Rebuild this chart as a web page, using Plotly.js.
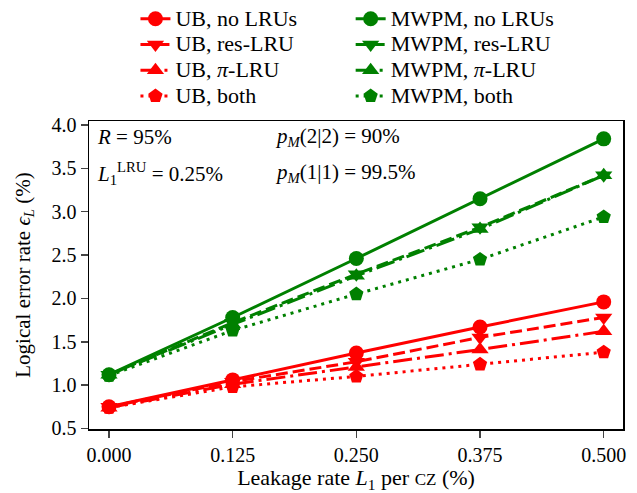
<!DOCTYPE html>
<html><head><meta charset="utf-8">
<script src="https://cdn.plot.ly/plotly-3.0.1.min.js"></script>
<style>body{margin:0;background:#fff}#plot{width:637px;height:493px}</style>
</head><body><div id="plot"></div>
<script>
const leakage = [0, 0.125, 0.25, 0.375, 0.5];
const xTickLabels = ['0.000','0.125','0.250','0.375','0.500'];
const ubNoLRU   = [0.75, 1.06, 1.37, 1.67, 1.96];
const ubRes     = [0.75, 1.04, 1.27, 1.55, 1.78];
const ubPi      = [0.74, 1.01, 1.21, 1.41, 1.62];
const ubBoth    = [0.74, 0.98, 1.10, 1.24, 1.38];
const mwNoLRU   = [1.12, 1.78, 2.46, 3.15, 3.84];
const mwRes     = [1.12, 1.72, 2.28, 2.82, 3.42];
const mwPi      = [1.12, 1.70, 2.26, 2.80, 3.42];
const mwBoth    = [1.11, 1.63, 2.05, 2.45, 2.94];

const RED = '#ff0000', GREEN = '#008000';
const FONT = 'Liberation Serif, DejaVu Serif, serif';
const TXT = 21;
function lg(s) { return '<span style="font-size:22px">' + s + '</span>'; }
function tr(name, y, color, dash, symbol, legend) {
  return {x: leakage, y: y, name: lg(name), type: 'scatter', mode: 'lines+markers',
    legend: legend,
    line: {color: color, width: 3, dash: dash},
    marker: {color: color, symbol: symbol, size: 15, line: {width: 0}}};
}
const data = [
  tr('UB, no LRUs', ubNoLRU, RED, 'solid', 'circle', 'legend'),
  tr('UB, res-LRU', ubRes, RED, '12px,5px', 'triangle-down', 'legend'),
  tr('UB, <i>π</i>-LRU', ubPi, RED, '19px,5px,3px,5px', 'triangle-up', 'legend'),
  tr('UB, both', ubBoth, RED, '3px,5px', 'pentagon', 'legend'),
  tr('MWPM, no LRUs', mwNoLRU, GREEN, 'solid', 'circle', 'legend2'),
  tr('MWPM, res-LRU', mwRes, GREEN, '12px,5px', 'triangle-down', 'legend2'),
  tr('MWPM, <i>π</i>-LRU', mwPi, GREEN, '19px,5px,3px,5px', 'triangle-up', 'legend2'),
  tr('MWPM, both', mwBoth, GREEN, '3px,5px', 'pentagon', 'legend2'),
];
const legBase = {orientation: 'v', yanchor: 'top', xanchor: 'left', y: 1.39,
  font: {family: FONT, size: 17.5, color: '#000'}, bgcolor: 'rgba(0,0,0,0)',
  tracegroupgap: 0, itemwidth: 30};
const layout = {
  width: 637, height: 493,
  margin: {l: 89, r: 14, t: 121, b: 64, autoexpand: false},
  paper_bgcolor: '#fff', plot_bgcolor: '#fff',
  font: {family: FONT, size: TXT, color: '#000'},
  showlegend: true,
  legend: Object.assign({}, legBase, {x: 0.087}),
  legend2: Object.assign({}, legBase, {x: 0.49}),
  xaxis: {range: [-0.0202, 0.5195], tickvals: leakage, ticktext: xTickLabels,
    showgrid: false, zeroline: false, showline: true, mirror: true,
    linecolor: '#000', linewidth: 1.5, ticks: 'outside', ticklen: 7, tickwidth: 1.5,
    tickfont: {family: FONT, size: 20},
    title: {text: 'Leakage rate <i>L</i><sub>1</sub> per <span style="font-size:17px">CZ</span> (%)',
      font: {family: FONT, size: 22}, standoff: 11}},
  yaxis: {range: [0.494, 4.046], tickvals: [0.5,1,1.5,2,2.5,3,3.5,4],
    ticktext: ['0.5','1.0','1.5','2.0','2.5','3.0','3.5','4.0'],
    showgrid: false, zeroline: false, showline: true, mirror: true,
    linecolor: '#000', linewidth: 1.5, ticks: 'outside', ticklen: 7, tickwidth: 1.5,
    tickfont: {family: FONT, size: 20},
    title: {text: 'Logical error rate <i>ϵ</i><sub><i>L</i></sub> (%)',
      font: {family: FONT, size: 21}, standoff: 15}},
  annotations: [
    {xref: 'paper', yref: 'paper', x: 0.012, y: 0.948, xanchor: 'left', yanchor: 'middle',
     text: '<i>R</i> = 95%', showarrow: false, font: {family: FONT, size: TXT}},
    {xref: 'paper', yref: 'paper', x: 0.012, y: 0.831, xanchor: 'left', yanchor: 'middle',
     text: '<i>L</i><sub>1</sub><sup>LRU</sup> = 0.25%', showarrow: false, font: {family: FONT, size: TXT}},
    {xref: 'paper', yref: 'paper', x: 0.345, y: 0.948, xanchor: 'left', yanchor: 'middle',
     text: '<i>p<sub>M</sub></i>(2|2) = 90%', showarrow: false, font: {family: FONT, size: TXT}},
    {xref: 'paper', yref: 'paper', x: 0.345, y: 0.831, xanchor: 'left', yanchor: 'middle',
     text: '<i>p<sub>M</sub></i>(1|1) = 99.5%', showarrow: false, font: {family: FONT, size: TXT}},
  ]
};
Plotly.newPlot('plot', data, layout, {displayModeBar: false, staticPlot: true});
</script></body></html>
